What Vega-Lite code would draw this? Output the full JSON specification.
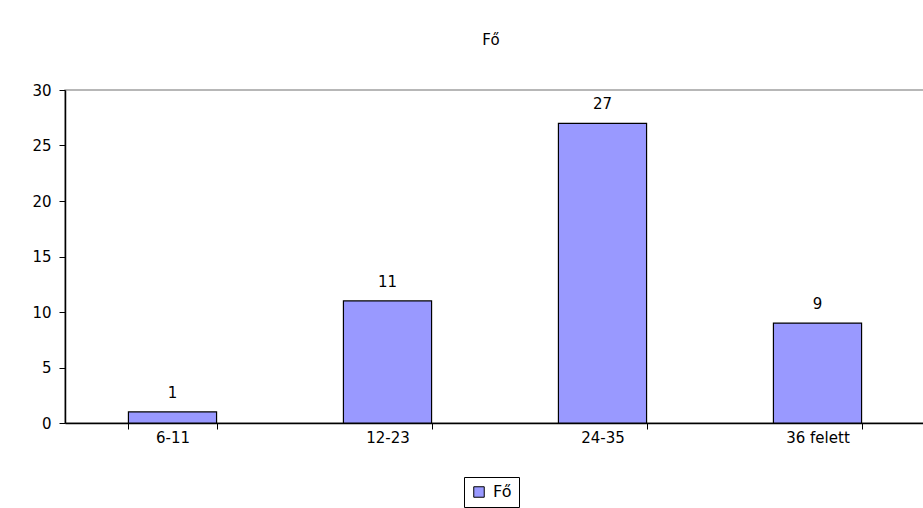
{
  "$schema": "https://vega.github.io/schema/vega-lite/v6.json",
  "autosize": {"type": "none"},
  "width": 860,
  "height": 333,
  "padding": {"left": 65, "top": 90, "right": 0, "bottom": 85},
  "background": "white",
  "title": {"text": "Fő", "fontSize": 15, "fontWeight": "normal", "font": "DejaVu Sans", "color": "black", "offset": 35, "anchor": "middle", "dx": -4},
  "config": {
    "view": {"stroke": "#a0a0a0", "strokeWidth": 1.5},
    "font": "DejaVu Sans"
  },
  "data": {"values": [
    {"cat": "6-11", "value": 1, "series": "Fő"},
    {"cat": "12-23", "value": 11, "series": "Fő"},
    {"cat": "24-35", "value": 27, "series": "Fő"},
    {"cat": "36  felett", "value": 9, "series": "Fő"}
  ]},
  "encoding": {
    "x": {"field": "cat", "type": "nominal", "sort": null,
      "scale": {"paddingInner": 0.59, "paddingOuter": 0.295},
      "axis": {"title": null, "labelAngle": 0, "labelFont": "DejaVu Sans", "labelFontSize": 15, "labelColor": "black", "labelPadding": 1,
        "domainColor": "black", "domainWidth": 1.5, "tickColor": "black", "tickSize": 6, "tickBand": "extent", "grid": false}},
    "y": {"field": "value", "type": "quantitative",
      "scale": {"domain": [0, 30], "nice": false},
      "axis": {"title": null, "values": [0, 5, 10, 15, 20, 25, 30], "labelFont": "DejaVu Sans", "labelFontSize": 15, "labelColor": "black", "labelPadding": 8,
        "domainColor": "black", "domainWidth": 1.5, "tickColor": "black", "tickSize": 6, "grid": false}}
  },
  "layer": [
    {
      "mark": {"type": "bar", "stroke": "black", "strokeWidth": 1.2},
      "encoding": {
        "color": {"field": "series", "type": "nominal",
          "scale": {"range": ["#9999FF"]},
          "legend": {"title": null, "orient": "none", "legendX": 399, "legendY": 387, "symbolType": "square", "symbolSize": 110, "symbolStrokeColor": "black", "symbolStrokeWidth": 1, "labelFont": "DejaVu Sans", "labelFontSize": 16, "labelColor": "black", "strokeColor": "black", "padding": 7, "labelOffset": 6}}
      }
    },
    {
      "mark": {"type": "text", "baseline": "alphabetic", "dy": -14, "fontSize": 15, "font": "DejaVu Sans", "color": "black"},
      "encoding": {"text": {"field": "value", "type": "quantitative"}}
    }
  ]
}
